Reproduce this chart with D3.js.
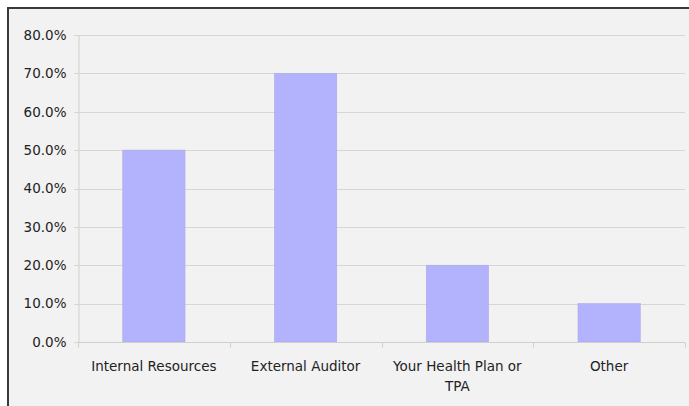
<!DOCTYPE html>
<html><head><meta charset="utf-8">
<script src="https://cdn.jsdelivr.net/npm/d3@7"></script>
<style>
html,body{margin:0;padding:0;background:#fff;}
svg{display:block;}
</style></head>
<body>
<svg id="chart" width="689" height="406"></svg>
<script>
const categories = ["Internal Resources", "External Auditor", "Your Health Plan or TPA", "Other"];
const labelLines = [["Internal Resources"], ["External Auditor"], ["Your Health Plan or", "TPA"], ["Other"]];
const values = [0.50, 0.70, 0.20, 0.10];
const yTicks = [0, 0.1, 0.2, 0.3, 0.4, 0.5, 0.6, 0.7, 0.8];

const svg = d3.select("#chart");
const W = 689, H = 406;
const m = {left: 78, right: 4, top: 35, bottom: 64};

// frame
svg.append("rect").attr("x", 0).attr("y", 0).attr("width", W).attr("height", H).attr("fill", "#fff");
svg.append("rect").attr("x", 8).attr("y", 8).attr("width", W - 8).attr("height", H - 8).attr("fill", "#f2f2f2");
svg.append("line").attr("x1", 7).attr("x2", W).attr("y1", 8).attr("y2", 8).attr("stroke", "#3a3a3a").attr("stroke-width", 2);
svg.append("line").attr("x1", 8).attr("x2", 8).attr("y1", 7).attr("y2", H).attr("stroke", "#3a3a3a").attr("stroke-width", 2);

const x = d3.scaleBand().domain(categories).range([m.left, W - m.right]).paddingInner(0.59).paddingOuter(0.295);
const y = d3.scaleLinear().domain([0, 0.8]).range([H - m.bottom, m.top]);

const fmt = d => (d * 100).toFixed(1) + "%";
const font = "'DejaVu Sans', Verdana, sans-serif";
const fs = 13.5;

// gridlines
svg.append("g").selectAll("line").data(yTicks).join("line")
  .attr("x1", m.left - 4).attr("x2", W - m.right)
  .attr("y1", d => Math.round(y(d)) + 0.5).attr("y2", d => Math.round(y(d)) + 0.5)
  .attr("stroke", "#d6d6d6").attr("stroke-width", 1);

// y axis
const yAxis = svg.append("g").attr("transform", `translate(${m.left + 0.5},0)`)
  .call(d3.axisLeft(y).tickValues(yTicks).tickFormat(fmt).tickSize(0).tickPadding(12));
yAxis.select(".domain").attr("stroke", "#d0d0d0");
yAxis.selectAll("text").attr("font-family", font).attr("font-size", fs).attr("fill", "#222");

// bars
svg.append("g").selectAll("rect").data(values).join("rect")
  .attr("x", (d, i) => x(categories[i]))
  .attr("width", x.bandwidth())
  .attr("y", d => y(d))
  .attr("height", d => y(0) - y(d))
  .attr("fill", "#b3b3fd")
  .attr("stroke", "#a8a8e8").attr("stroke-width", 0.6);

// x axis
const step = x.step();
const tickPos = d3.range(categories.length + 1).map(i => m.left + i * step);
const base = Math.round(y(0)) + 0.5;
svg.append("line").attr("x1", m.left).attr("x2", W - m.right).attr("y1", base).attr("y2", base).attr("stroke", "#cfcfcf");
svg.append("g").selectAll("line").data(tickPos).join("line")
  .attr("x1", d => Math.round(d) + 0.5).attr("x2", d => Math.round(d) + 0.5)
  .attr("y1", base).attr("y2", base + 5).attr("stroke", "#cfcfcf");

// x labels
const lab = svg.append("g");
categories.forEach((c, i) => {
  const t = lab.append("text")
    .attr("x", x(c) + x.bandwidth() / 2)
    .attr("y", 371)
    .attr("text-anchor", "middle")
    .attr("font-family", font).attr("font-size", fs).attr("fill", "#222");
  labelLines[i].forEach((ln, j) => {
    t.append("tspan").attr("x", x(c) + x.bandwidth() / 2).attr("dy", j === 0 ? 0 : 20).text(ln);
  });
});
</script>
</body></html>
